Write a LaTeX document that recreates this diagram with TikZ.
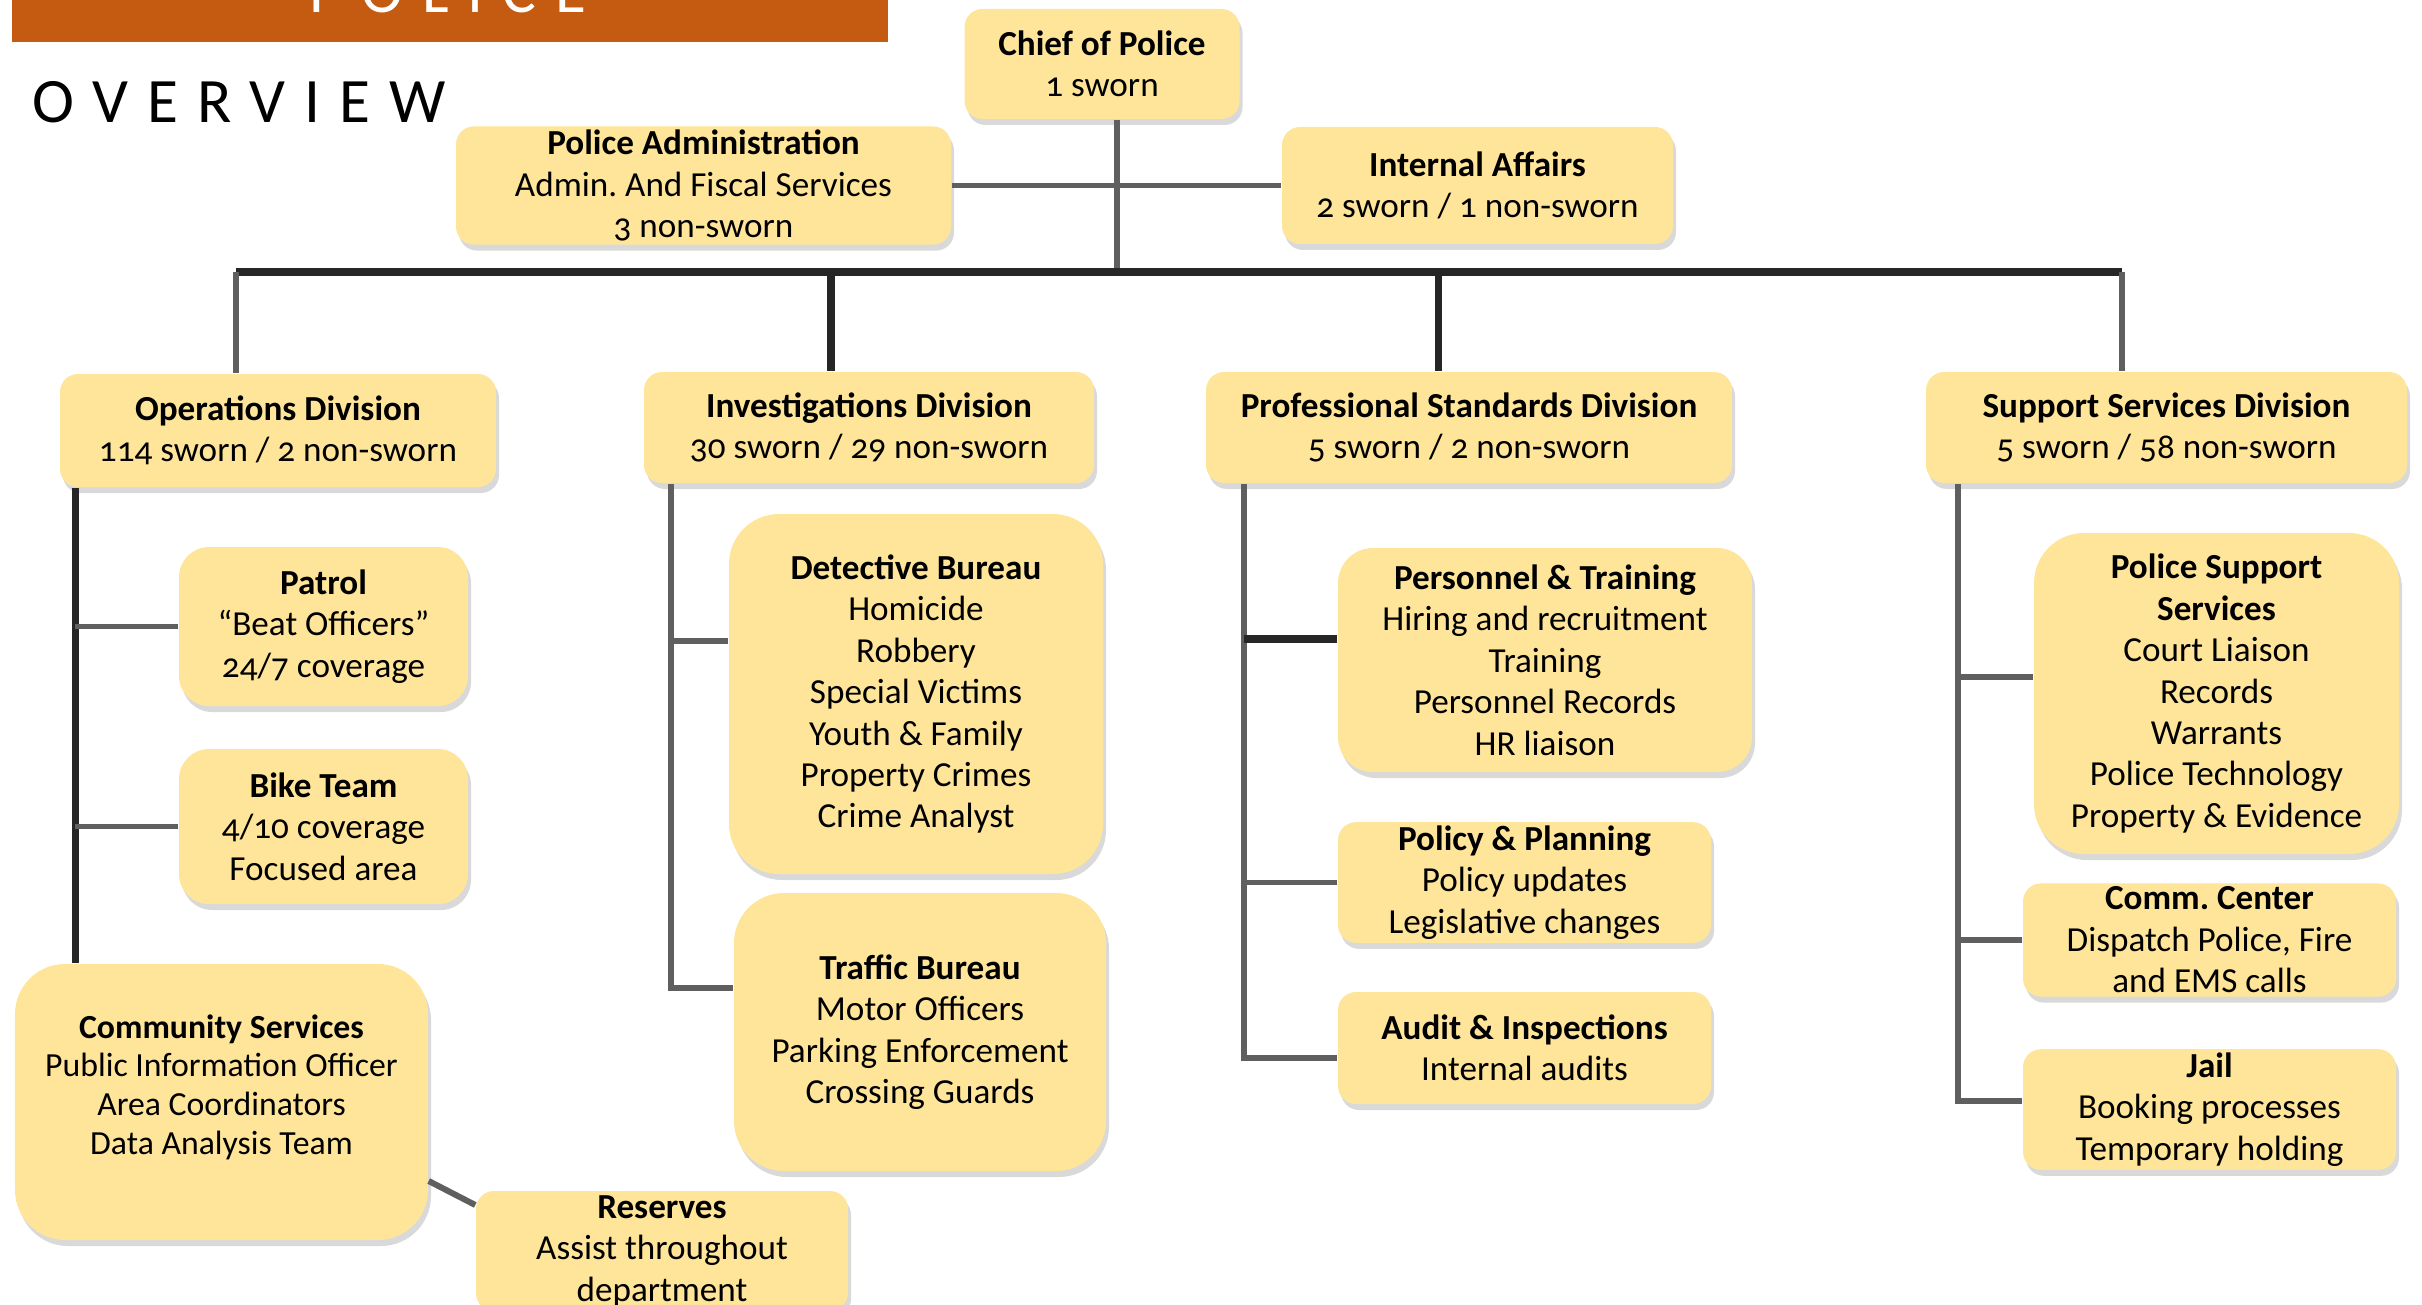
\documentclass[tikz,border=0pt]{standalone}
\usepackage{fontspec}
\setmainfont{Carlito}[Numbers=OldStyle]
\newfontfamily\titlefont{Carlito}[LetterSpace=30]
\usetikzlibrary{positioning, calc, shadows}
\definecolor{BoxGold}{HTML}{FEE59A}
\definecolor{BannerRust}{HTML}{C55A11}
\definecolor{LineDark}{HTML}{262626}
\definecolor{LineGrey}{HTML}{5F5F5F}
\frenchspacing

\begin{document}
\begin{tikzpicture}[
                unit/.style={rectangle, fill=BoxGold, rounded corners=0.18cm, align=center, inner xsep=2pt, inner ysep=1pt, font=\fontsize{10}{11.8}\selectfont,
                  drop shadow={shadow xshift=0.03cm, shadow yshift=-0.06cm, opacity=0.3}},
                bigunit/.style={unit, rounded corners=0.5cm},
                link/.style={LineGrey, line width=1.7pt},
                trunk/.style={LineDark, line width=2pt}
            ]
                \useasboundingbox (0,0) rectangle (24.22,-13.05);

                % Banner
                \fill[BannerRust] (0.12,0.6) rectangle (8.88,-0.42);
                \node[white, anchor=base, inner sep=0pt, font=\titlefont\fontsize{18}{20}\selectfont] (bannertxt) at (4.48,-0.13) {POLICE};
                \node[anchor=base west, inner sep=0pt, font=\titlefont\fontsize{18}{20}\selectfont] (overview) at (0.32,-1.23) {OVERVIEW};

                % Nodes
                \node[unit, minimum width=2.75cm, minimum height=1.10cm] (chief) at (11.02,-0.64) {\textbf{Chief of Police}\\1 sworn};
                \node[unit, minimum width=4.95cm, minimum height=1.17cm] (admin) at (7.035,-1.855) {\textbf{Police Administration}\\Admin. And Fiscal Services\\3 non-sworn};
                \node[unit, minimum width=3.91cm, minimum height=1.17cm] (ia) at (14.775,-1.855) {\textbf{Internal Affairs}\\2 sworn / 1 non-sworn};

                \node[unit, minimum width=4.36cm, minimum height=1.13cm] (ops) at (2.78,-4.305) {\textbf{Operations Division}\\114 sworn / 2 non-sworn};
                \node[unit, minimum width=4.50cm, minimum height=1.11cm] (inv) at (8.69,-4.275) {\textbf{Investigations Division}\\30 sworn / 29 non-sworn};
                \node[unit, minimum width=5.26cm, minimum height=1.11cm] (prof) at (14.69,-4.275) {\textbf{Professional Standards Division}\\5 sworn / 2 non-sworn};
                \node[unit, minimum width=4.81cm, minimum height=1.11cm] (sup) at (21.665,-4.275) {\textbf{Support Services Division}\\5 sworn / 58 non-sworn};

                % Operations units
                \node[unit, rounded corners=0.3cm, minimum width=2.89cm, minimum height=1.59cm] (patrol) at (3.235,-6.265) {\textbf{Patrol}\\``Beat Officers''\\24/7 coverage};
                \node[unit, rounded corners=0.3cm, minimum width=2.89cm, minimum height=1.55cm] (bike) at (3.235,-8.265) {\textbf{Bike Team}\\4/10 coverage\\Focused area};
                \node[bigunit, minimum width=4.13cm, minimum height=2.76cm, font=\fontsize{9.6}{11}\selectfont] (comm) at (2.215,-11.02) {\textbf{Community Services}\\Public Information Officer\\Area Coordinators\\Data Analysis Team\\[-0.03cm]\mbox{}};
                \node[unit, minimum width=3.72cm, minimum height=1.20cm] (res) at (6.62,-12.51) {\textbf{Reserves}\\Assist throughout\\department};

                % Investigations units
                \node[bigunit, minimum width=3.74cm, minimum height=3.60cm] (det) at (9.16,-6.94) {\textbf{Detective Bureau}\\Homicide\\Robbery\\Special Victims\\Youth \& Family\\Property Crimes\\Crime Analyst};
                \node[bigunit, minimum width=3.72cm, minimum height=2.78cm] (traf) at (9.20,-10.32) {\textbf{Traffic Bureau}\\Motor Officers\\Parking Enforcement\\Crossing Guards};

                % Professional Standards units
                \node[unit, rounded corners=0.35cm, minimum width=4.14cm, minimum height=2.24cm] (pers) at (15.45,-6.60) {\textbf{Personnel \& Training}\\Hiring and recruitment\\Training\\Personnel Records\\HR liaison};
                \node[unit, minimum width=3.73cm, minimum height=1.13cm] (policy) at (15.245,-8.825) {\textbf{Policy \& Planning}\\Policy updates\\Legislative changes};
                \node[unit, minimum width=3.73cm, minimum height=1.12cm] (audit) at (15.245,-10.48) {\textbf{Audit \& Inspections}\\Internal audits};

                % Support Services units
                \node[bigunit, minimum width=3.65cm, minimum height=3.21cm] (pss) at (22.165,-6.935) {\textbf{Police Support}\\\textbf{Services}\\Court Liaison\\Records\\Warrants\\Police Technology\\Property \& Evidence};
                \node[unit, minimum width=3.73cm, minimum height=1.12cm] (ccenter) at (22.095,-9.40) {\textbf{Comm. Center}\\Dispatch Police, Fire\\and EMS calls};
                \node[unit, minimum width=3.73cm, minimum height=1.13cm] (jail) at (22.095,-11.095) {\textbf{Jail}\\Booking processes\\Temporary holding};

                % Joints
                \coordinate (bus) at (0,-2.72);
                \coordinate (chiefdrop) at ($(chief.south)+(0.15,0)$);
                \coordinate (opsdrop) at ($(ops.north)+(-0.42,0)$);
                \coordinate (invdrop) at ($(inv.north)+(-0.38,0)$);
                \coordinate (profdrop) at ($(prof.north)+(-0.31,0)$);
                \coordinate (supdrop) at ($(sup.north)+(-0.45,0)$);
                \coordinate (opsspine) at ($(ops.south west)+(0.16,0)$);
                \coordinate (invspine) at ($(inv.south west)+(0.28,0)$);
                \coordinate (profspine) at ($(prof.south west)+(0.39,0)$);
                \coordinate (supspine) at ($(sup.south west)+(0.33,0)$);
                \coordinate (detjoin) at ($(det.west)+(0,0.53)$);
                \coordinate (trafjoin) at ($(traf.west)+(0,0.44)$);
                \coordinate (persjoin) at ($(pers.west)+(0,0.21)$);
                \coordinate (auditjoin) at ($(audit.west)+(0,-0.10)$);
                \coordinate (pssjoin) at ($(pss.west)+(0,0.165)$);
                \coordinate (jailjoin) at ($(jail.west)+(0,0.085)$);

                % Path connections
                \draw[link] (chiefdrop) -- (chiefdrop |- bus);
                \draw[link] (admin.east) -- (ia.west);
                \draw[trunk] (opsdrop |- bus) -- (supdrop |- bus);
                \draw[link] (opsdrop |- bus) -- (opsdrop);
                \draw[trunk] (invdrop |- bus) -- (invdrop);
                \draw[trunk] (profdrop |- bus) -- (profdrop);
                \draw[link] (supdrop |- bus) -- (supdrop);

                \draw[trunk] (opsspine) -- (opsspine |- comm.north);
                \draw[link] (patrol.west) -- (patrol.west -| opsspine);
                \draw[link] (bike.west) -- (bike.west -| opsspine);
                \draw[link] ($(comm.east)+(0,-0.79)$) -- ($(res.west)+(0,0.46)$);

                \draw[link] (invspine) -- (invspine |- trafjoin) -- (trafjoin);
                \draw[link] (detjoin) -- (detjoin -| invspine);

                \draw[link] (profspine) -- (profspine |- auditjoin) -- (auditjoin);
                \draw[trunk] (persjoin) -- (persjoin -| profspine);
                \draw[link] (policy.west) -- (policy.west -| profspine);

                \draw[link] (supspine) -- (supspine |- jailjoin) -- (jailjoin);
                \draw[link] (pssjoin) -- (pssjoin -| supspine);
                \draw[link] (ccenter.west) -- (ccenter.west -| supspine);
            \end{tikzpicture}
\end{document}
